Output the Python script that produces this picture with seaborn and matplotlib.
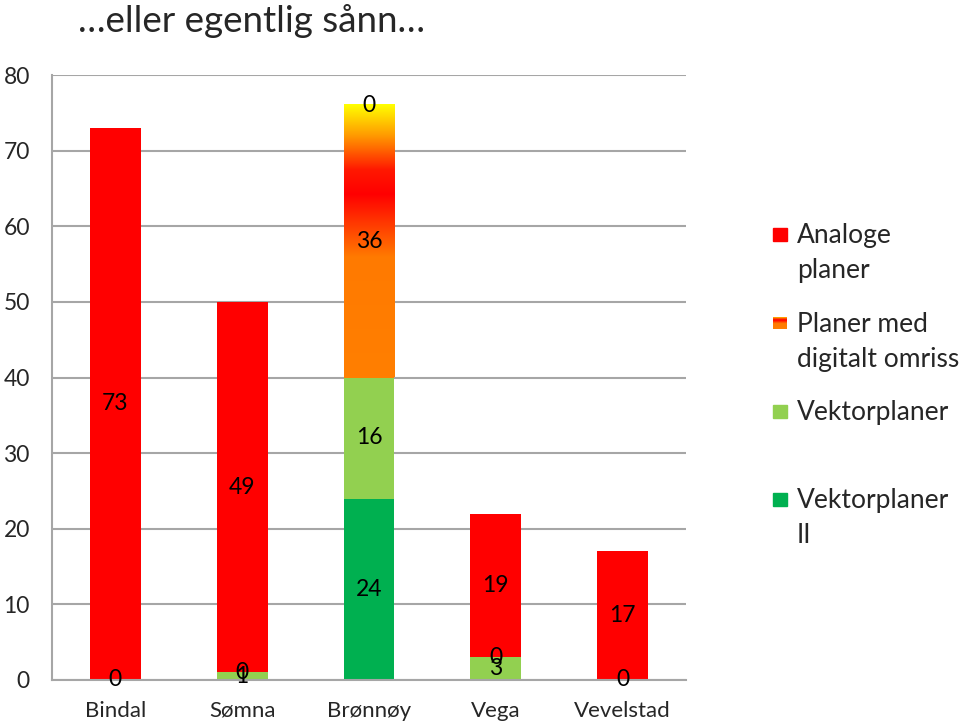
# %%
# import libraries
import matplotlib.pyplot as plt
import numpy as np
import pandas as pd
import seaborn as sns
from matplotlib.colors import LinearSegmentedColormap
from matplotlib.patches import Rectangle

# %%
# data (bottom layer first)
kommuner = ["Bindal", "Sømna", "Brønnøy", "Vega", "Vevelstad"]
vektor_ii = [np.nan, np.nan, 24, np.nan, np.nan]
vektor = [0, 1, 16, 3, 0]
digitalt = [np.nan, 0, 36, 0, np.nan]
analoge = [73, 49, 0, 19, 17]
yticks = [0, 10, 20, 30, 40, 50, 60, 70, 80]

serier = ["Vektorplaner II", "Vektorplaner", "Planer med digitalt omriss", "Analoge planer"]
verdier = [vektor_ii, vektor, digitalt, analoge]
farger = ["#00B050", "#92D050", "#FF7F00", "#FF0000"]

df = pd.DataFrame(
    {
        "kommune": kommuner * len(serier),
        "serie": np.repeat(serier, len(kommuner)),
        "antall": np.concatenate(verdier),
    }
)

# gradient used for "Planer med digitalt omriss"
grad = LinearSegmentedColormap.from_list(
    "omriss",
    [(0.0, "#FF7F00"), (0.44, "#FF7A00"), (0.67, "#FF0000"), (0.76, "#FF1800"),
     (0.88, "#FF9400"), (1.0, "#FFFF00")],
)

# %%
sns.set_style("white")
plt.rcParams["font.family"] = ["Lato", "DejaVu Sans"]
W, H = 960, 721
fig = plt.figure(figsize=(W / 100, H / 100), dpi=100)
ax = fig.add_axes([52 / W, 41 / H, 634 / W, 605 / H])

grey = "#A6A6A6"
bunn = np.zeros(len(kommuner))
for serie, farge in zip(serier, farger):
    sub = df[df["serie"] == serie]
    hoyde = sub["antall"].fillna(0).to_numpy()
    sns.barplot(
        data=sub.assign(antall=hoyde), x="kommune", y="antall", order=kommuner,
        color=farge, saturation=1, width=0.4, errorbar=None, bottom=bunn, ax=ax,
        linewidth=0,
    )
    bars = ax.containers[-1]
    if serie == "Planer med digitalt omriss":
        for p, v in zip(bars, sub["antall"]):
            if v > 0:
                x0, y0 = p.get_x(), p.get_y()
                ax.imshow(
                    np.linspace(0, 1, 256).reshape(-1, 1), cmap=grad, origin="lower",
                    extent=(x0, x0 + p.get_width(), y0, y0 + p.get_height()),
                    aspect="auto", zorder=1.5,
                )
    labels = ["" if np.isnan(v) else f"{v:.0f}" for v in sub["antall"]]
    ax.bar_label(bars, labels=labels, label_type="center", fontsize=16.5, color="black")
    bunn = bunn + hoyde

ax.set_xlim(-0.5, len(kommuner) - 0.5)
ax.set_ylim(0, 80)
ax.set_yticks(yticks)
ax.set_xlabel("")
ax.set_ylabel("")
ax.set_axisbelow(True)
ax.yaxis.grid(True, color=grey, lw=1.5)
sns.despine(ax=ax)
for s in ["left", "bottom"]:
    ax.spines[s].set_color(grey)
    ax.spines[s].set_linewidth(1.5)
ax.tick_params(axis="y", length=7, width=1.5, color=grey, pad=9, labelsize=16.5)
ax.tick_params(axis="x", length=0, pad=15, labelsize=16)
ax.set_xticks(np.arange(-0.5, len(kommuner)), minor=True)
ax.tick_params(axis="x", which="minor", length=7, width=1.5, color=grey)

fig.text(78 / W, 1 - 32 / H, "…eller egentlig sånn…", fontsize=26.5, va="baseline")

# legend, drawn by hand to follow the original layout
legend_rows = [
    (234, ["Analoge", "planer"], farger[3]),
    (323, ["Planer med", "digitalt omriss"], None),
    (411, ["Vektorplaner"], farger[1]),
    (499, ["Vektorplaner", "II"], farger[0]),
]
for y, linjer, farge in legend_rows:
    if farge is None:
        lax = fig.add_axes([773 / W, 1 - (y + 6.5) / H, 14 / W, 13 / H])
        lax.imshow(np.linspace(0, 1, 64).reshape(-1, 1), cmap=grad, origin="lower", aspect="auto")
        lax.axis("off")
    else:
        fig.add_artist(Rectangle((773 / W, 1 - (y + 6.5) / H), 14 / W, 13 / H,
                                 transform=fig.transFigure, color=farge))
    for i, linje in enumerate(linjer):
        fig.text(797 / W, 1 - (y + 9 + 35 * i) / H, linje, fontsize=19, va="baseline")

fig.savefig("out.png", dpi=100)
